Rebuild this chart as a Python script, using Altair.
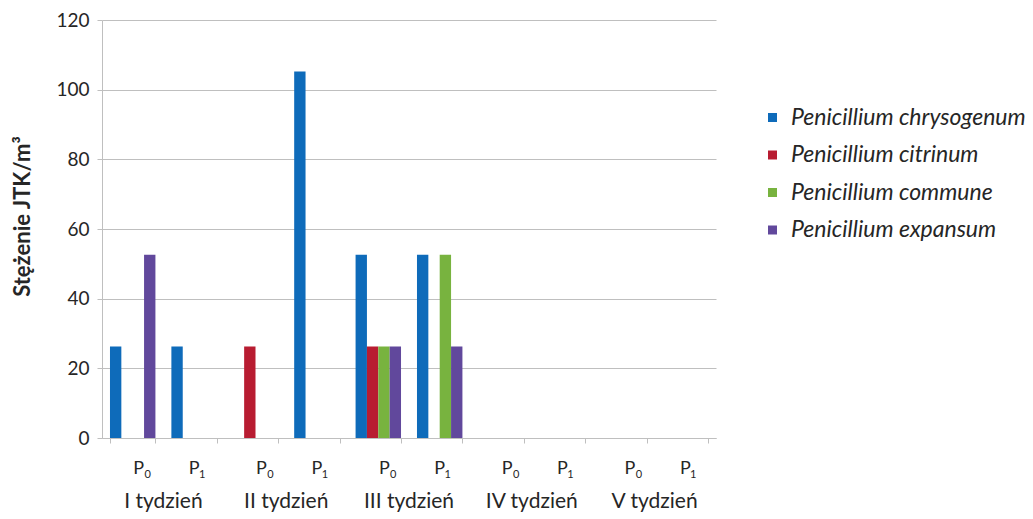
import altair as alt
import pandas as pd

weeks = ["I tydzień", "II tydzień", "III tydzień", "IV tydzień", "V tydzień"]
points = ["P0", "P1"]
subs = {"P0": "0", "P1": "1"}
series = [
    "Penicillium chrysogenum",
    "Penicillium citrinum",
    "Penicillium commune",
    "Penicillium expansum",
]
# values per series, in order I-P0, I-P1, II-P0, II-P1, ... V-P1
chrysogenum = [26.3, 26.3, 0, 105.2, 52.6, 52.6, 0, 0, 0, 0]
citrinum = [0, 0, 26.3, 0, 26.3, 0, 0, 0, 0, 0]
commune = [0, 0, 0, 0, 26.3, 52.6, 0, 0, 0, 0]
expansum = [52.6, 0, 0, 0, 26.3, 26.3, 0, 0, 0, 0]
colors = ["#0E6BBA", "#B81C31", "#78B33F", "#61489C"]

groups = [f"{w}|{p}" for w in weeks for p in points]
rows = []
for s, vals in zip(series, [chrysogenum, citrinum, commune, expansum]):
    for g, v in zip(groups, vals):
        rows.append({"group": g, "series": s, "value": v})
df = pd.DataFrame(rows)

lab = pd.DataFrame(
    [{"group": f"{w}|{p}", "week": w, "p": p, "P": "P", "sub": subs[p]} for w in weeks for p in points]
)

FONT = "Lato"
W, H = 614, 418
step = W / 10.0
TXT = "#262626"
GRID = "#BFBFBF"

xscale = alt.Scale(domain=groups, paddingInner=0.26, paddingOuter=0.13)

bars = alt.Chart(df).mark_bar().encode(
    x=alt.X("group:N", scale=xscale, sort=groups,
            axis=alt.Axis(title=None, labels=False, tickBand="extent", ticks=True,
                          tickSize=5, tickColor=GRID, domainColor=GRID, grid=False)),
    xOffset=alt.XOffset("series:N", sort=series, scale=alt.Scale(domain=series, paddingInner=0, paddingOuter=0)),
    y=alt.Y("value:Q", scale=alt.Scale(domain=[0, 120]),
            axis=alt.Axis(values=[0, 20, 40, 60, 80, 100, 120], title="Stężenie JTK/m³",
                          titleFontSize=22, titleFont=FONT, titleFontWeight="bold", titleColor=TXT,
                          titlePadding=21, titleY=196, labelFontSize=19, labelFont=FONT, labelColor=TXT,
                          labelPadding=8, tickSize=5, tickColor=GRID, domainColor=GRID,
                          gridColor=GRID, grid=True)),
    color=alt.Color("series:N", sort=series, scale=alt.Scale(domain=series, range=colors),
                    legend=alt.Legend(title=None, orient="none", legendX=659, legendY=86,
                                      symbolType="square", symbolSize=81, symbolStrokeWidth=0,
                                      labelFont=FONT, labelFontSize=23, labelFontStyle="italic",
                                      labelColor=TXT, labelOffset=7, labelLimit=0,
                                      rowPadding=13.5, padding=0)),
)

def ptext(pname, dxP, dxS):
    base = alt.Chart(lab).transform_filter(alt.datum.p == pname)
    t1 = base.mark_text(font=FONT, fontSize=18, color=TXT, baseline="alphabetic", dx=dxP).encode(
        x=alt.X("group:N", scale=xscale, sort=groups), y=alt.value(H + 36), text="P:N")
    t2 = base.mark_text(font=FONT, fontSize=11, color=TXT, baseline="alphabetic", dx=dxS).encode(
        x=alt.X("group:N", scale=xscale, sort=groups), y=alt.value(H + 40), text="sub:N")
    return t1 + t2

weekt = alt.Chart(lab).transform_filter(alt.datum.p == "P0").mark_text(
    font=FONT, fontSize=21, color=TXT, baseline="alphabetic", dx=step / 2).encode(
    x=alt.X("group:N", scale=xscale, sort=groups), y=alt.value(H + 70), text="week:N")

chart = alt.layer(bars, ptext("P0", 6, 15), ptext("P1", 0, 8), weekt).properties(
    width=W, height=H,
    autosize=alt.AutoSizeParams(type="none"),
    padding={"left": 94, "top": 12, "right": 309, "bottom": 81},
).configure_view(stroke=None).configure_axis(labelFont=FONT, titleFont=FONT)

chart.save("out.html", embed_options={"renderer": "svg", "actions": False})
